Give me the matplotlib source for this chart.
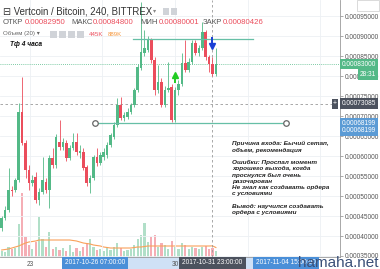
import matplotlib.pyplot as plt
from matplotlib.patches import Rectangle
import numpy as np

plt.rcParams['font.family'] = ['Liberation Sans', 'DejaVu Sans']

# 4h candles, prices in satoshi (1e-8 BTC)
opens = [42000, 44500, 46500, 51500, 51500, 54000, 71000, 63250, 56500, 53250,
         54750, 49000, 51000, 53500, 51500, 59500, 57750, 63500, 62250, 63250,
         59500, 62000, 63500, 60750, 61000, 57250, 53250, 54500, 59750, 58250,
         59750, 60250, 62750, 64750, 67750, 72750, 69500, 69750, 71000, 72750,
         76500, 82000, 85750, 86500, 89000, 84000, 76500, 78500, 72750, 76500,
         77250, 69000, 76500, 78000, 83250, 81500, 83500, 88250, 85750, 87000,
         91000, 84750, 82950, 80426]
closes = [44500, 46500, 51500, 51250, 54000, 71000, 63250, 56500, 53250, 54000,
          49000, 51000, 54000, 51500, 59500, 57750, 64750, 62250, 63500, 59500,
          62000, 63500, 61000, 61250, 57000, 53250, 54500, 59750, 58250, 60250,
          61000, 62750, 65250, 67750, 72750, 69500, 70250, 71000, 72750, 76500,
          82250, 86000, 87000, 89000, 84000, 76500, 78500, 72750, 76500, 77000,
          69000, 76500, 78000, 83250, 81500, 83500, 88250, 85750, 87000, 91000,
          84750, 83000, 80426, 83000]
highs = [45000, 47500, 57000, 52500, 54500, 73250, 79750, 64000, 57750, 55250,
         56000, 52000, 59750, 54500, 60250, 62000, 65500, 69000, 64500, 64000,
         62750, 65750, 65750, 62750, 62000, 57750, 55250, 60250, 62000, 61000,
         62000, 63500, 65750, 68500, 74500, 74750, 71000, 72000, 73250, 77000,
         83000, 98500, 91500, 90000, 89500, 84750, 82750, 79500, 77500, 83500,
         78000, 77250, 79000, 85750, 89000, 84500, 89000, 89000, 87750, 93500,
         91500, 85250, 84800, 87000]
lows = [41250, 44000, 46000, 50000, 51000, 53500, 62750, 54500, 51500, 52500,
        48250, 47750, 50500, 50750, 47000, 57000, 57000, 61500, 61500, 58750,
        59000, 61500, 60250, 59500, 56500, 52500, 50750, 54000, 57500, 57750,
        59000, 59500, 62250, 64250, 67250, 69000, 68750, 69250, 70500, 72250,
        76000, 81500, 85000, 86000, 83250, 75250, 75750, 72250, 72250, 76000,
        68500, 68500, 75250, 77500, 81000, 81000, 83000, 85250, 85000, 86500,
        84000, 81000, 80001, 80000]
# volume, thousands
volumes = [480, 400, 800, 640, 720, 2640, 5120, 1600, 960, 640,
           1200, 3200, 1440, 800, 2000, 640, 800, 560, 720, 480,
           960, 400, 720, 480, 800, 1120, 1440, 800, 560, 640,
           480, 720, 560, 800, 1120, 720, 480, 560, 640, 960,
           1440, 1760, 2720, 1200, 1600, 1760, 800, 1120, 960, 640,
           1280, 800, 640, 1120, 960, 640, 800, 720, 640, 800,
           880, 640, 720, 445]
vol_ma = [560, 600, 640, 720, 800, 880, 1000, 1120, 1200, 1240,
          1280, 1360, 1360, 1360, 1360, 1360, 1360, 1360, 1360, 1360,
          1360, 1320, 1280, 1200, 1120, 1080, 1040, 960, 920, 880,
          800, 760, 720, 720, 720, 720, 720, 720, 720, 760,
          800, 800, 840, 880, 880, 880, 880, 880, 880, 880,
          880, 880, 880, 880, 880, 880, 880, 880, 880, 880,
          880, 880, 889, 760]

price_ticks = list(range(35000, 100000, 5000))
day_labels = ['23', '30']
day_pos = [8.3, 51.0]
grid_x = [8.3, 29.5, 51.0, 72.4, 93.6]

level_low = 68199
level_high = 89250
last_price = 83000
cross_price = 73085

text_note = ("Причина входа: Бычий сетап,\nобъем, рекомендация\n\n"
             "Ошибки: Проспал момент\nхорошего выхода, когда\nпроснулся был очень\n"
             "разочарован\nНе знал как создавать ордера\nс условиями\n\n"
             "Вывод: научился создавать\nордера с условиями")

UP = '#53b987'
DOWN = '#eb4d5c'
TEAL = '#66bfa6'

W, H = 380, 269
fig = plt.figure(figsize=(3.8, 2.69), dpi=100)
fig.patch.set_facecolor('white')
ax = fig.add_axes([0, 12 / H, 340 / W, 257 / H])
axv = ax.twinx()
ax.set_zorder(axv.get_zorder() + 1)
ax.patch.set_visible(False)

idx = np.arange(len(opens))
o = np.array(opens, float)
c = np.array(closes, float)
cols = [UP if cc >= oo else DOWN for oo, cc in zip(o, c)]

# volume pane
axv.bar(idx, volumes, width=0.7, color=cols, alpha=0.45, linewidth=0)
axv.plot(idx, vol_ma, color='#f9a15a', lw=0.8)
axv.set_ylim(0, 257 * 80)
axv.set_yticks([])
for s in axv.spines.values():
    s.set_visible(False)

# grid
for gx in grid_x:
    ax.axvline(gx, color='#edf0f4', lw=0.6, zorder=0)
for py in price_ticks:
    ax.axhline(py, color='#edf0f4', lw=0.6, zorder=0)

# candles
ax.vlines(idx, lows, highs, colors=cols, lw=0.6, zorder=2)
body = np.maximum(np.abs(c - o), 150)
ax.bar(idx, body, bottom=np.minimum(o, c), width=0.72, color=cols, linewidth=0, zorder=3)

# lines
ax.axhline(last_price, color=UP, ls=(0, (1, 1.5)), lw=0.6, zorder=1)
ax.axhline(cross_price, color='#9a9a9a', ls=(0, (3, 3)), lw=0.6, zorder=1)
ax.axvline(62, color='#9a9a9a', ls=(0, (3, 3)), lw=0.6, zorder=1)
ax.plot([27.4, 83.6], [level_low, level_low], color=TEAL, lw=0.9, zorder=4)
ax.plot([27.4, 83.6], [level_low, level_low], 'o', mfc='white', mec='#666666', ms=4, mew=0.9, zorder=5)
ax.plot([38.6, 74.0], [level_high, level_high], color=TEAL, lw=0.9, zorder=4)

# buy / sell arrows
ax.vlines(51, 78300, 80300, color='#22cc22', lw=1.4, zorder=6)
ax.plot(51, 80300, marker='^', ms=4.5, color='#22cc22', zorder=6)
ax.vlines(62, 87800, 89800, color='#1a3fd6', lw=1.4, zorder=6)
ax.plot(62, 87600, marker='v', ms=4.5, color='#1a3fd6', zorder=6)

ax.text(67.7, 63700, text_note, fontsize=4.6, fontweight='bold', style='italic',
        color='#222222', va='top', ha='left', linespacing=1.3, zorder=7)

ax.set_xlim(-0.5, 99.5)
ax.set_ylim(34750, 99000)

# axes look
ax.yaxis.tick_right()
ax.set_yticks(price_ticks)
ax.set_yticklabels([f'{v / 1e8:.8f}' for v in price_ticks])
ax.tick_params(axis='y', length=2, width=0.5, color='#888888', pad=1.5,
               labelsize=4.7, labelcolor='#555555')
ax.set_xticks(day_pos)
ax.set_xticklabels(day_labels)
ax.tick_params(axis='x', length=0, pad=3, labelsize=4.7, labelcolor='#555555')
for side in ['top', 'left']:
    ax.spines[side].set_visible(False)
ax.spines['right'].set_color('#9a9a9a')
ax.spines['bottom'].set_color('#9a9a9a')
ax.spines['right'].set_linewidth(0.6)
ax.spines['bottom'].set_linewidth(0.6)

# price axis labels
ytr = ax.get_yaxis_transform()
def plabel(x, y, s, fc):
    ax.text(x, y, s, transform=ytr, fontsize=4.7, color='white', ha='left', va='center',
            clip_on=False, zorder=10,
            bbox=dict(boxstyle='square,pad=0.3', fc=fc, ec='none'))
plabel(1.006, last_price, f'{last_price / 1e8:.8f}', UP)
plabel(1.058, 80400, '28:31', UP)
plabel(1.006, cross_price, f'{cross_price / 1e8:.8f}', '#4c525e')
ax.text(0.985, cross_price, '+', transform=ytr, fontsize=5, color='white', ha='center',
        va='center', clip_on=False, zorder=10,
        bbox=dict(boxstyle='square,pad=0.2', fc='#4c525e', ec='none'))
plabel(1.006, level_low, f'{level_low / 1e8:.8f}', '#5b9bd5')
plabel(1.006, 66400, f'{level_low / 1e8:.8f}', '#5b9bd5')

# time axis labels
xtr = ax.get_xaxis_transform()
ax.add_patch(Rectangle((36.3, -12 / 257), 16.7, 12 / 257, transform=xtr, fc='#cfe1f6',
                       ec='none', clip_on=False, zorder=0.5))
ax.add_patch(Rectangle((70.7, -12 / 257), 4.6, 12 / 257, transform=xtr, fc='#cfe1f6',
                       ec='none', clip_on=False, zorder=0.5))
def tlabel(x, s, fc):
    ax.text(x, -6 / 257, s, transform=xtr, fontsize=4.7, color='white', ha='center',
            va='center', clip_on=False, zorder=10,
            bbox=dict(boxstyle='square,pad=0.45', fc=fc, ec='none'))
tlabel(27.4, '2017-10-26 07:00:00', '#4a8fd8')
tlabel(62, '2017-10-31 23:00:00', '#4c525e')
tlabel(83.6, '2017-11-04 15:00:00', '#4a8fd8')

# header
def ftext(x, y, s, **kw):
    fig.text(x / W, 1 - y / H, s, va='center', ha='left', **kw)
ftext(3, 11, '⊟ Vertcoin / Bitcoin, 240, BITTREX', fontsize=6.9, color='#333333')
ftext(153, 11, '▾', fontsize=4.5, color='#888888')
for xb in [163, 171]:
    fig.patches.append(Rectangle((xb / W, 1 - 15 / H), 6 / W, 7 / H, transform=fig.transFigure,
                                 fc='#d0d3d8', ec='none'))
parts = [(3, 'ОТКР', '#555555'), (25, '0.00082950', DOWN),
         (71, 'МАКС', '#555555'), (93, '0.00084800', DOWN),
         (140, 'МИН', '#555555'), (159, '0.00080001', DOWN),
         (203, 'ЗАКР', '#555555'), (223, '0.00080426', DOWN)]
for xp, s, col in parts:
    ftext(xp, 23, s, fontsize=5.6, color=col)
ftext(3, 34, 'Объем (20) ▾', fontsize=4.4, color='#666666')
for xb in [50, 59, 68, 77]:
    fig.patches.append(Rectangle((xb / W, 1 - 38 / H), 7 / W, 7 / H, transform=fig.transFigure,
                                 fc='#d0d3d8', ec='none'))
ftext(89, 34, '445K', fontsize=4.4, color=DOWN)
ftext(108, 34, '889K', fontsize=4.4, color='#f5973d')
ftext(10, 44, 'Тф 4 часа', fontsize=4.8, fontweight='bold', style='italic', color='#111111')
fig.patches.append(Rectangle((357 / W, 1 - 11 / H), 22 / W, 11 / H, transform=fig.transFigure,
                             fc='white', ec='#cccccc', lw=0.5))

fig.text(298 / W, 2 / H, 'hamaha.net', fontsize=11, color='#3a5078', va='baseline',
         ha='left', zorder=20)

fig.savefig('out.png', dpi=100)
